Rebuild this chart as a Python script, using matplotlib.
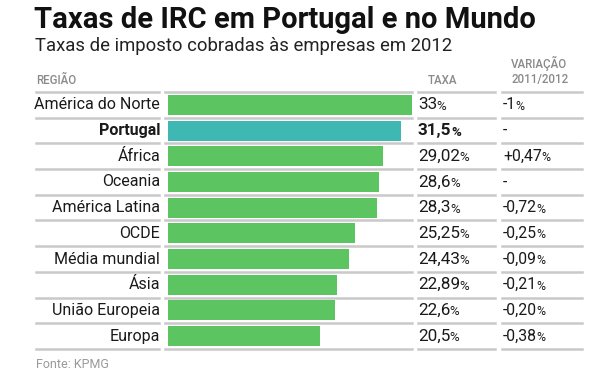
import matplotlib
matplotlib.use("Agg")
import matplotlib.pyplot as plt
from matplotlib.transforms import blended_transform_factory

plt.rcParams["font.family"] = ["Roboto", "DejaVu Sans"]

regioes = ["América do Norte", "Portugal", "África", "Oceania", "América Latina",
           "OCDE", "Média mundial", "Ásia", "União Europeia", "Europa"]
taxas = [33, 31.5, 29.02, 28.6, 28.3, 25.25, 24.43, 22.89, 22.6, 20.5]
taxa_labels = ["33", "31,5", "29,02", "28,6", "28,3", "25,25", "24,43", "22,89", "22,6", "20,5"]
variacao = ["-1", "-", "+0,47", "-", "-0,72", "-0,25", "-0,09", "-0,21", "-0,20", "-0,38"]

W, H = 610, 375
GREEN = "#5dc462"
TEAL = "#3fb8b3"
LINE = "#c9c9c9"
TEXT = "#1a1a1a"
GREY = "#8a8a8a"

fig = plt.figure(figsize=(W / 100, H / 100), dpi=100)
fig.patch.set_facecolor("white")


def fx(px):
    return px / W


def fy(py):
    return 1 - py / H


ax = fig.add_axes([fx(168), fy(349), (412 - 168) / W, (349 - 92) / H])
ax.set_xlim(0, 33)
ax.set_ylim(len(regioes) - 0.5, -0.5)
ax.axis("off")

colors = [TEAL if r == "Portugal" else GREEN for r in regioes]
ax.barh(range(len(regioes)), taxas, height=0.78, color=colors)

tr = blended_transform_factory(fig.transFigure, ax.transData)

# linhas separadoras
for i in range(len(regioes) + 1):
    y = i - 0.5
    for x0, x1 in [(36, 159), (165, 412), (418, 495), (502, 582)]:
        ax.plot([fx(x0), fx(x1)], [y, y], color=LINE, lw=1.8, transform=tr, clip_on=False)

for i, r in enumerate(regioes):
    bold = r == "Portugal"
    ax.text(fx(160), i, r, transform=tr, ha="right", va="center", fontsize=11.5,
            color=TEXT, fontweight="bold" if bold else "normal")

fig.canvas.draw()
renderer = fig.canvas.get_renderer()


def num_pct(x, i, value, size, bold):
    w = "bold" if bold else "normal"
    txt = ax.text(fx(x), i, value, transform=tr, ha="left", va="center",
                  fontsize=size, color=TEXT, fontweight=w)
    if value == "-":
        return
    bb = txt.get_window_extent(renderer=renderer)
    ax.text((bb.x1 - 0.5) / W, i + 0.06, "%", transform=tr, ha="left", va="center",
            fontsize=size * 0.78, color=TEXT, fontweight=w)


for i in range(len(regioes)):
    bold = regioes[i] == "Portugal"
    num_pct(418, i, taxa_labels[i], 12.3, bold)
    num_pct(503, i, variacao[i], 11.3, False)

# cabeçalhos
hdr = dict(fontsize=8.3, color=GREY, ha="left", va="center", fontweight="medium")
fig.text(fx(36), fy(80), "REGIÃO", **hdr)
fig.text(fx(428), fy(80), "TAXA", **hdr)
fig.text(fx(511), fy(63), "VARIAÇÃO", **hdr)
fig.text(fx(511), fy(80), "2011/2012", **hdr)

fig.text(fx(34), fy(20), "Taxas de IRC em Portugal e no Mundo", fontsize=21,
         fontweight="bold", color="#111111", ha="left", va="center")
fig.text(fx(35), fy(46), "Taxas de imposto cobradas às empresas em 2012", fontsize=13.3,
         color="#222222", ha="left", va="center")
fig.text(fx(36), fy(365), "Fonte: KPMG", fontsize=9, color="#9a9a9a", ha="left", va="center")

fig.savefig("out.png", dpi=100, facecolor="white")
